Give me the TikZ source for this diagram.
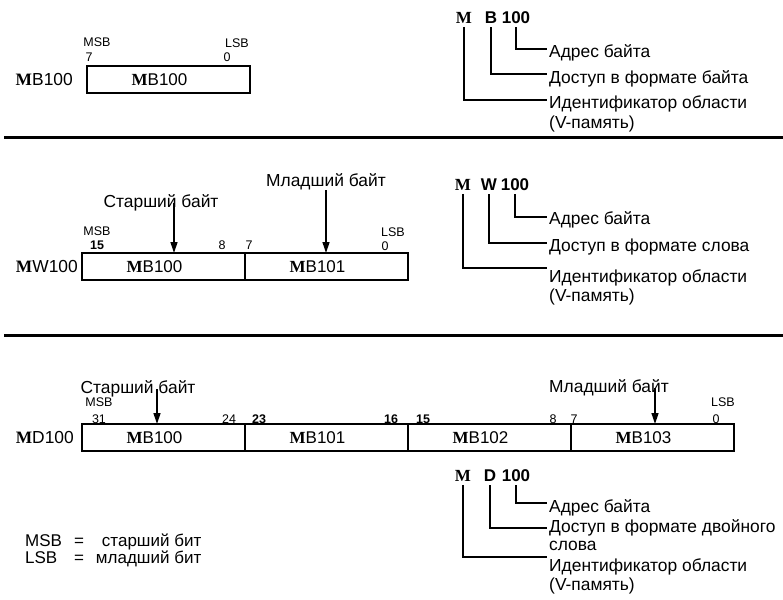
\documentclass[tikz,border=0pt]{standalone}
\usepackage{fontspec}
\setmainfont{Liberation Sans}
\newfontfamily\timesfont{Liberation Serif}
\usetikzlibrary{positioning, arrows.meta, calc}
\newcommand{\mletter}{{\timesfont\bfseries M}}
\tikzset{
  txt/.style={font=\fontsize{17.4}{19}\selectfont, inner sep=0pt, anchor=west},
  hdr/.style={font=\fontsize{17}{19}\selectfont\bfseries, inner sep=0pt},
  bitnr/.style={font=\fontsize{12.5}{13}\selectfont, inner sep=0pt},
  bitbf/.style={bitnr, font=\fontsize{12.5}{13}\selectfont\bfseries},
  cell/.style={draw, line width=1.3pt, minimum height=27pt, minimum width=163pt,
    inner sep=0pt, outer sep=0pt, font=\fontsize{17}{19}\selectfont,
    execute at end node={\hspace*{18pt}}},
  lead/.style={line width=2.5pt, shorten <=3pt, shorten >=2pt},
  sep/.style={line width=3pt},
  bytearrow/.style={-{Triangle[length=11pt,width=7pt]}, line width=1.3pt}
}

\begin{document}
\begin{tikzpicture}[x=1pt, y=-1pt]
  \useasboundingbox (0,0) rectangle (783,599);

  % byte MB100
  \node[bitnr] (msba) at (97,42) {MSB};
  \node[bitnr] (n7a) at (89,57) {7};
  \node[bitnr] (lsba) at (237,43) {LSB};
  \node[bitnr] (n0a) at (227,57) {0};
  \node[cell, anchor=north west] (mb100a) at (87,66) {\mletter B100};
  \node[txt, anchor=east] (mba) at (73,80) {\mletter B100};

  \node[hdr] (hMa) at (464,18) {\mletter};
  \node[hdr] (hBa) at (491,18) {B};
  \node[hdr] (hNa) at (516,18) {100};
  \node[txt] (adra) at (549,53) {Адрес байта};
  \node[txt] (acca) at (549,79) {Доступ в формате байта};
  \node[txt] (ida) at (549,104) {Идентификатор области};
  \node[txt] (vma) at (549,124) {(V-память)};
  \draw[lead] (hNa.south) |- ([yshift=4pt]adra.west);
  \draw[lead] (hBa.south) |- ([yshift=5pt]acca.west);
  \draw[lead] (hMa.south) |- ([yshift=4pt]ida.west);

  \draw[sep] (4,137) -- (783,137);

  % word MW100
  \node[txt, anchor=center] (lowb) at (326,182) {Младший байт};
  \node[txt, anchor=center] (hib) at (161,203) {Старший байт};
  \node[bitnr] (msbb) at (97,231) {MSB};
  \node[bitbf] (n15b) at (97,245) {15};
  \node[bitnr] (n8b) at (222,245) {8};
  \node[bitnr] (n7b) at (249,245) {7};
  \node[bitnr] (lsbb) at (393,232) {LSB};
  \node[bitnr] (n0b) at (385,246) {0};
  \node[cell, anchor=north west] (mb100b) at (82,253) {\mletter B100};
  \node[cell, right=0pt of mb100b] (mb101b) {\mletter B101};
  \node[txt, anchor=east] (mwb) at (78,267) {\mletter W100};
  \draw[line width=2pt] (mb100b.north east) -- (mb100b.south east);
  \draw[bytearrow] (lowb.south) -- (lowb.south |- mb101b.north);
  \draw[bytearrow] ([xshift=13pt]hib.center) -- ([xshift=13pt]hib.center |- mb100b.north);

  \node[hdr] (hMb) at (463,185) {\mletter};
  \node[hdr] (hWb) at (489,185) {W};
  \node[hdr] (hNb) at (515,185) {100};
  \node[txt] (adrb) at (549,220) {Адрес байта};
  \node[txt] (accb) at (549,247) {Доступ в формате слова};
  \node[txt] (idb) at (549,278) {Идентификатор области};
  \node[txt] (vmb) at (549,297) {(V-память)};
  \draw[lead] (hNb.south) |- ([yshift=3pt]adrb.west);
  \draw[lead] (hWb.south) |- ([yshift=4pt]accb.west);
  \draw[lead] (hMb.south) |- ([yshift=10pt]idb.west);

  \draw[sep] (4,335) -- (783,335);

  % double word MD100
  \node[txt, anchor=center] (hic) at (138,389) {Старший байт};
  \node[txt, anchor=center] (lowc) at (609,388) {Младший байт};
  \node[bitnr] (msbc) at (99,402) {MSB};
  \node[bitnr] (n31c) at (99,419) {31};
  \node[bitnr] (n24c) at (229,419) {24};
  \node[bitbf] (n23c) at (259,419) {23};
  \node[bitbf] (n16c) at (391,419) {16};
  \node[bitbf] (n15c) at (423,419) {15};
  \node[bitnr] (n8c) at (553,419) {8};
  \node[bitnr] (n7c) at (574,419) {7};
  \node[bitnr] (lsbc) at (723,402) {LSB};
  \node[bitnr] (n0c) at (716,419) {0};
  \node[cell, anchor=north west] (mb100c) at (82,424) {\mletter B100};
  \node[cell, right=0pt of mb100c] (mb101c) {\mletter B101};
  \node[cell, right=0pt of mb101c] (mb102c) {\mletter B102};
  \node[cell, right=0pt of mb102c] (mb103c) {\mletter B103};
  \node[txt, anchor=east] (mdc) at (74,438) {\mletter D100};
  \foreach \c in {mb100c, mb101c, mb102c}
    \draw[line width=2pt] (\c.north east) -- (\c.south east);
  \draw[bytearrow] ([xshift=19pt]hic.center) -- ([xshift=19pt]hic.center |- mb100c.north);
  \draw[bytearrow] ([xshift=46pt]lowc.center) -- ([xshift=46pt]lowc.center |- mb103c.north);

  \node[hdr] (hMc) at (463,476) {\mletter};
  \node[hdr] (hDc) at (490,476) {D};
  \node[hdr] (hNc) at (516,476) {100};
  \node[txt] (adrc) at (549,508) {Адрес байта};
  \node[txt] (accc) at (549,528) {Доступ в формате двойного};
  \node[txt] (slc) at (549,546) {слова};
  \node[txt] (idc) at (549,567) {Идентификатор области};
  \node[txt] (vmc) at (549,586) {(V-память)};
  \draw[lead] (hNc.south) |- ([yshift=5pt]adrc.west);
  \draw[lead] (hDc.south) |- (accc.west);
  \draw[lead] (hMc.south) |- ([yshift=10pt]idc.west);

  \node[txt, font=\fontsize{17}{16}\selectfont] (legend) at (25,551) {%
    \begin{tabular}{@{}l@{\hspace{12pt}}c@{\hspace{12pt}}r@{}}
      MSB & = & старший бит\\
      LSB & = & младший бит
    \end{tabular}};
\end{tikzpicture}
\end{document}
